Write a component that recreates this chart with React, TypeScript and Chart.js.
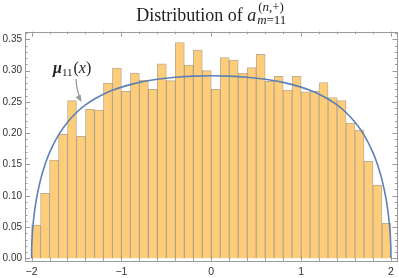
import React, { useEffect, useRef } from "react";
import { Chart, registerables } from "chart.js";

Chart.register(...registerables);

// Histogram bins (centers, width 0.1) and densities
const binCenters = [
  -1.95, -1.85, -1.75, -1.65, -1.55, -1.45, -1.35, -1.25, -1.15, -1.05,
  -0.95, -0.85, -0.75, -0.65, -0.55, -0.45, -0.35, -0.25, -0.15, -0.05,
  0.05, 0.15, 0.25, 0.35, 0.45, 0.55, 0.65, 0.75, 0.85, 0.95,
  1.05, 1.15, 1.25, 1.35, 1.45, 1.55, 1.65, 1.75, 1.85, 1.95,
];
const binDensity = [
  0.053, 0.104, 0.157, 0.198, 0.252, 0.195, 0.238, 0.237, 0.28, 0.304,
  0.267, 0.296, 0.285, 0.27, 0.311, 0.284, 0.345, 0.309, 0.333, 0.3,
  0.27, 0.321, 0.317, 0.296, 0.305, 0.326, 0.283, 0.291, 0.269, 0.291,
  0.266, 0.267, 0.281, 0.257, 0.252, 0.216, 0.205, 0.155, 0.117, 0.056,
];

// Curve mu_11(x), points
const curveX = [
  -2, -1.999, -1.995, -1.98, -1.95, -1.9, -1.85, -1.8, -1.7, -1.6, -1.5, -1.4, -1.3, -1.2, -1.1, -1.0,
  -0.8, -0.6, -0.4, -0.2, 0, 0.2, 0.4, 0.6, 0.8,
  1.0, 1.1, 1.2, 1.3, 1.4, 1.5, 1.6, 1.7, 1.8, 1.85, 1.9, 1.95, 1.98, 1.995, 1.999, 2,
];
const curveY = [
  0, 0.0133, 0.0296, 0.0588, 0.0914, 0.1258, 0.1501, 0.169, 0.1973, 0.2176, 0.2331, 0.2451, 0.2546, 0.2623, 0.2685, 0.2736,
  0.2812, 0.2862, 0.2894, 0.2912, 0.2918, 0.2912, 0.2894, 0.2862, 0.2812,
  0.2736, 0.2685, 0.2623, 0.2546, 0.2451, 0.2331, 0.2176, 0.1973, 0.169, 0.1501, 0.1258, 0.0914, 0.0588, 0.0296, 0.0133, 0,
];

const xTicks = [-2, -1, 0, 1, 2];
const yTicks = [0, 0.05, 0.1, 0.15, 0.2, 0.25, 0.3, 0.35];

const FRAME = "#9a9a9a";

const decorPlugin = {
  id: "decor",
  afterDraw(chart: any) {
    const { ctx, chartArea: a, scales } = chart;
    const xs = scales.x;
    const ys = scales.y;
    ctx.save();
    // frame
    ctx.strokeStyle = FRAME;
    ctx.lineWidth = 1;
    ctx.strokeRect(Math.round(a.left) + 0.5, Math.round(a.top) + 0.5, Math.round(a.right - a.left) - 1, Math.round(a.bottom - a.top));
    // x ticks (major every 1, minor every 0.2)
    ctx.beginPath();
    for (let k = -10; k <= 10; k++) {
      const v = k * 0.2;
      const px = Math.round(xs.getPixelForValue(v)) + 0.5;
      const len = k % 5 === 0 ? 5 : 2.5;
      ctx.moveTo(px, a.bottom);
      ctx.lineTo(px, a.bottom - len);
      ctx.moveTo(px, a.top);
      ctx.lineTo(px, a.top + len);
    }
    // y ticks (major every 0.05, minor every 0.01)
    for (let k = 0; k <= 36; k++) {
      const v = k * 0.01;
      const py = Math.round(ys.getPixelForValue(v)) + 0.5;
      const len = k % 5 === 0 ? 5 : 2.5;
      ctx.moveTo(a.left, py);
      ctx.lineTo(a.left + len, py);
      ctx.moveTo(a.right, py);
      ctx.lineTo(a.right - len, py);
    }
    ctx.stroke();

    // Title
    const serif = '"Liberation Serif", "DejaVu Serif", serif';
    const mainFont = `18px ${serif}`;
    const mainItal = `italic 18px ${serif}`;
    const scr = `13px ${serif}`;
    const scrI = `italic 13px ${serif}`;
    const main = "Distribution of ";
    ctx.font = mainFont;
    const wMain = ctx.measureText(main).width;
    ctx.font = mainItal;
    const wA = ctx.measureText("a").width;
    const meas = (parts: [string, string][]) =>
      parts.reduce((s, [t, f]) => {
        ctx.font = f;
        return s + ctx.measureText(t).width;
      }, 0);
    const supParts: [string, string][] = [["(", scr], ["n", scrI], [",+)", scr]];
    const subParts: [string, string][] = [["m", scrI], ["=11", scr]];
    const wSup = meas(supParts);
    const wSub = meas(subParts);
    const total = wMain + wA + 1 + Math.max(wSup, wSub);
    const cx = (a.left + a.right) / 2;
    let x0 = cx - total / 2;
    ctx.fillStyle = "#222";
    ctx.textBaseline = "alphabetic";
    ctx.textAlign = "left";
    ctx.font = mainFont;
    ctx.fillText(main, x0, 20.7);
    x0 += wMain;
    ctx.font = mainItal;
    ctx.fillText("a", x0, 20.7);
    x0 += wA + 1;
    const drawParts = (parts: [string, string][], x: number, y: number) => {
      for (const [t, f] of parts) {
        ctx.font = f;
        ctx.fillText(t, x, y);
        x += ctx.measureText(t).width;
      }
    };
    drawParts(supParts, x0 + 1, 10.5);
    drawParts(subParts, x0, 23.8);

    // Curve label
    let lx = 53;
    ctx.font = `bold italic 16px ${serif}`;
    ctx.fillText("μ", lx, 72.5);
    lx += ctx.measureText("μ").width;
    ctx.font = `11px ${serif}`;
    ctx.fillText("11", lx, 75.5);
    lx += ctx.measureText("11").width + 1;
    drawParts([["(", `16px ${serif}`], ["x", `italic 16px ${serif}`], [")", `16px ${serif}`]], lx, 72.5);

    // Arrow
    ctx.strokeStyle = "#9a9a9a";
    ctx.fillStyle = "#9a9a9a";
    ctx.lineWidth = 1.3;
    ctx.beginPath();
    ctx.moveTo(76, 79);
    ctx.quadraticCurveTo(76.5, 91, 80.5, 99);
    ctx.stroke();
    const tipX = 81.5, tipY = 102;
    const dx = 4.5, dy = 8;
    const L = Math.hypot(dx, dy);
    const ux = dx / L, uy = dy / L;
    const bx = tipX - ux * 7, by = tipY - uy * 7;
    ctx.beginPath();
    ctx.moveTo(tipX, tipY);
    ctx.lineTo(bx - uy * 3, by + ux * 3);
    ctx.lineTo(bx + uy * 3, by - ux * 3);
    ctx.closePath();
    ctx.fill();
    ctx.restore();
  },
};

export default function App() {
  const ref = useRef<HTMLCanvasElement>(null);
  useEffect(() => {
    if (!ref.current) return;
    const chart = new Chart(ref.current, {
      type: "bar",
      data: {
        datasets: [
          {
            type: "line",
            data: curveX.map((x, i) => ({ x, y: curveY[i] })),
            borderColor: "#5e81b5",
            borderWidth: 1.6,
            pointRadius: 0,
            cubicInterpolationMode: "monotone",
            fill: false,
            order: 0,
          } as any,
          {
            type: "bar",
            data: binCenters.map((x, i) => ({ x, y: binDensity[i] })),
            backgroundColor: "rgb(254,205,122)",
            borderColor: "rgba(150,118,75,0.6)",
            borderWidth: 1,
            borderSkipped: "bottom",
            barPercentage: 1,
            categoryPercentage: 1,
            grouped: false,
            order: 1,
          } as any,
        ],
      },
      options: {
        animation: false,
        responsive: false,
        layout: { padding: { top: 31.7, right: 1.5, left: 0, bottom: 0 } },
        plugins: { legend: { display: false }, tooltip: { enabled: false }, title: { display: false } },
        scales: {
          x: {
            type: "linear",
            min: -2.073,
            max: 2.073,
            offset: false,
            grid: { display: false, drawTicks: false, tickLength: 0 },
            border: { display: false },
            afterBuildTicks: (s: any) => {
              s.ticks = xTicks.map((v) => ({ value: v }));
            },
            afterFit: (s: any) => {
              s.height = 17.3;
            },
            ticks: {
              padding: 5,
              color: "#333",
              font: { family: '"Liberation Sans", Arial, sans-serif', size: 10.5 },
              maxRotation: 0,
              callback: (v: any) => (v < 0 ? "\u2212" + Math.abs(v) : String(v)),
            },
          },
          y: {
            type: "linear",
            min: -0.0038,
            max: 0.3622,
            grid: { display: false, drawTicks: false, tickLength: 0 },
            border: { display: false },
            afterBuildTicks: (s: any) => {
              s.ticks = yTicks.map((v) => ({ value: v }));
            },
            afterFit: (s: any) => {
              s.width = 25;
            },
            ticks: {
              padding: 3,
              color: "#333",
              font: { family: '"Liberation Sans", Arial, sans-serif', size: 10 },
              callback: (v: any) => Number(v).toFixed(2),
            },
          },
        },
      },
      plugins: [decorPlugin],
    });
    return () => chart.destroy();
  }, []);
  return (
    <div style={{ position: "fixed", left: 0, top: 0, width: 399, height: 278, background: "#fff" }}>
      <canvas ref={ref} width={399} height={278} style={{ display: "block" }} />
    </div>
  );
}
